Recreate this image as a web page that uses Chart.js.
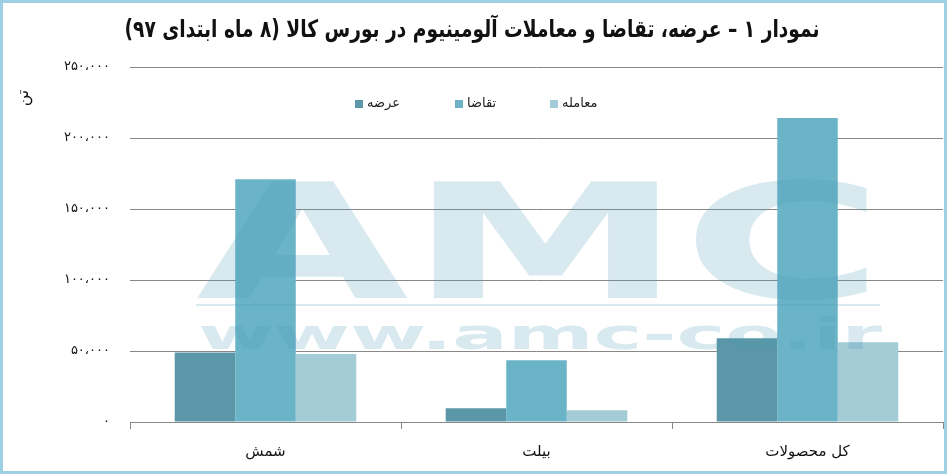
<!DOCTYPE html>
<html>
<head>
<meta charset="utf-8">
<script src="https://cdn.jsdelivr.net/npm/chart.js@4/dist/chart.umd.min.js"></script>
<style>
    html, body { margin: 0; padding: 0; background: #fff; }
    #wrap { position: relative; width: 947px; height: 474px; }
</style>
</head>
<body>
<div id="wrap"><canvas id="aluChart" width="947" height="474"></canvas></div>
<script>
const categories = ['شمش', 'بیلت', 'کل محصولات'];
const seriesNames = ['عرضه', 'تقاضا', 'معامله'];
const supply = [49000, 9700, 59000];
const demand = [170900, 43400, 214100];
const traded = [47900, 8300, 56200];
const yTicks = [0, 50000, 100000, 150000, 200000, 250000];
const chartTitle = 'نمودار ۱ – عرضه، تقاضا و معاملات آلومینیوم در بورس کالا (۸ ماه ابتدای ۹۷)';
const yUnit = 'تن';

const colors = ['#5b97a8', '#6bb4c8', '#a4ccd7'];
const persianDigits = (s) => String(s).replace(/\d/g, (d) => '۰۱۲۳۴۵۶۷۸۹'[d]);
const fmt = (v) => persianDigits(v.toLocaleString('en-US').replace(/,/g, '،'));

const decor = {
    id: 'decor',
    afterDatasetsDraw(chart) {
        // faint AMC watermark over the bars
        const ctx = chart.ctx;
        ctx.save();
        ctx.fillStyle = 'rgba(70, 150, 178, 0.21)';
        ctx.textBaseline = 'alphabetic';
        ctx.textAlign = 'left';
        ctx.font = 'bold 160px "DejaVu Sans"';
        let w = ctx.measureText('AMC').width;
        ctx.save();
        ctx.translate(196, 298);
        ctx.scale(688 / w, 1);
        ctx.fillText('AMC', 0, 0);
        ctx.restore();
        ctx.fillRect(196, 304, 684, 2);
        ctx.font = 'bold 42px "DejaVu Sans"';
        w = ctx.measureText('www.amc-co.ir').width;
        ctx.save();
        ctx.translate(198, 349);
        ctx.scale(684 / w, 1);
        ctx.fillText('www.amc-co.ir', 0, 0);
        ctx.restore();
        ctx.restore();
    },
    afterDraw(chart) {
        const ctx = chart.ctx;
        ctx.save();
        // title
        ctx.direction = 'rtl';
        ctx.fillStyle = '#111';
        ctx.font = 'bold 24px "DejaVu Sans"';
        ctx.textAlign = 'center';
        ctx.textBaseline = 'middle';
        const tw = ctx.measureText(chartTitle).width;
        ctx.save();
        ctx.translate(472, 31);
        ctx.scale(695 / tw, 1);
        ctx.fillText(chartTitle, 0, 0);
        ctx.restore();
        // y unit
        ctx.save();
        ctx.translate(24, 98);
        ctx.rotate(-Math.PI / 2);
        ctx.font = '16px "DejaVu Sans"';
        ctx.fillText(yUnit, 0, 0);
        ctx.restore();
        // legend
        const legendX = [355, 455, 550];
        ctx.font = '13px "DejaVu Sans"';
        ctx.textAlign = 'left';
        ctx.direction = 'ltr';
        seriesNames.forEach((name, i) => {
            ctx.fillStyle = colors[i];
            ctx.fillRect(legendX[i], 100, 8, 8);
            ctx.fillStyle = '#222';
            ctx.fillText(name, legendX[i] + 12, 104);
        });
        // frame
        ctx.strokeStyle = '#9dd0e2';
        ctx.lineWidth = 4;
        ctx.strokeRect(1, 1, 945, 472);
        ctx.restore();
    },
};

new Chart(document.getElementById('aluChart'), {
    type: 'bar',
    data: {
        labels: categories,
        datasets: [
            { label: seriesNames[0], data: supply, backgroundColor: colors[0] },
            { label: seriesNames[1], data: demand, backgroundColor: colors[1] },
            { label: seriesNames[2], data: traded, backgroundColor: colors[2] },
        ],
    },
    options: {
        responsive: false,
        animation: false,
        layout: { padding: { top: 67, right: 4, bottom: 0, left: 0 } },
        datasets: { bar: { categoryPercentage: 0.67, barPercentage: 1 } },
        plugins: { legend: { display: false }, title: { display: false }, tooltip: { enabled: false } },
        scales: {
            x: {
                afterFit: (scale) => { scale.height = 52; },
                grid: { drawOnChartArea: false, color: '#888', tickLength: 7 },
                border: { color: '#888' },
                ticks: { color: '#111', padding: 14, font: { family: 'DejaVu Sans', size: 15 } },
            },
            y: {
                min: 0,
                max: 250000,
                afterBuildTicks: (scale) => { scale.ticks = yTicks.map((v) => ({ value: v })); },
                afterFit: (scale) => { scale.width = 130; },
                grid: { color: '#888', tickLength: 0 },
                border: { display: false },
                ticks: { color: '#111', padding: 20, callback: (v) => fmt(v), font: { family: 'DejaVu Sans', size: 13 } },
            },
        },
    },
    plugins: [decor],
});
</script>
</body>
</html>
